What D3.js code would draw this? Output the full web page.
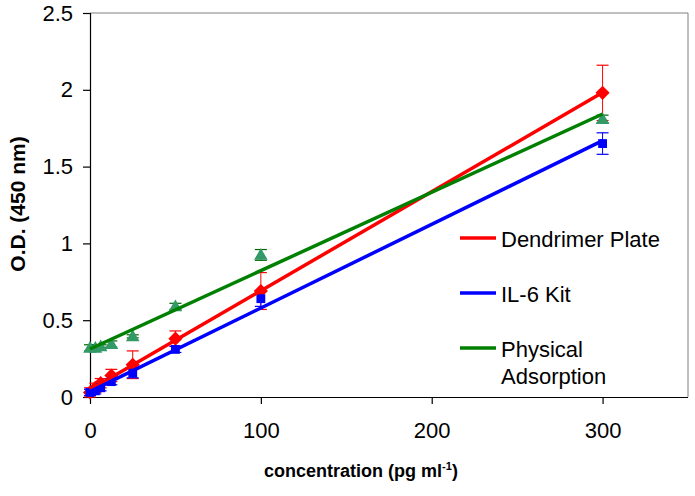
<!DOCTYPE html>
<html>
<head>
<meta charset="utf-8">
<script src="https://cdn.jsdelivr.net/npm/d3@7"></script>
<style>
  html, body { margin: 0; padding: 0; background: #fff; }
  svg { display: block; font-family: "Liberation Sans", Arial, sans-serif; }
</style>
</head>
<body>
<svg id="chart" width="695" height="496"></svg>
<script>
// ---- data ----
const concentrations = [0, 3.125, 6.25, 12.5, 25, 50, 100, 300];
const seriesNames = ["Dendrimer Plate", "IL-6 Kit", "Physical Adsorption"];
const dendrimerOD  = [0.03, 0.06, 0.09, 0.14, 0.21, 0.38, 0.69, 1.98];
const dendrimerErr = [0.03, 0.03, 0.03, 0.04, 0.09, 0.05, 0.12, 0.18];
const il6OD        = [0.03, 0.04, 0.06, 0.10, 0.155, 0.31, 0.64, 1.65];
const il6Err       = [0.02, 0.02, 0.02, 0.02, 0.03, 0.02, 0.05, 0.07];
const physicalOD   = [0.32, 0.32, 0.33, 0.345, 0.395, 0.59, 0.925, 1.81];
const physicalErr  = [0.02, 0.02, 0.01, 0.02, 0.01, 0.02, 0.035, 0.025];
const xTicks = [0, 100, 200, 300];
const yTicks = [0, 0.5, 1, 1.5, 2, 2.5];

const series = [
  { name: seriesNames[0], y: dendrimerOD, err: dendrimerErr, color: "#FF0000", marker: "diamond" },
  { name: seriesNames[2], y: physicalOD, err: physicalErr, color: "#008000", markerColor: "#339966", marker: "triangle" },
  { name: seriesNames[1], y: il6OD, err: il6Err, color: "#0000FF", marker: "square" }
];

// ---- layout ----
const svg = d3.select("#chart");
const padL = 90, padR = 688, padT = 13, padB = 397;
const x = d3.scaleLinear().domain([0, 350]).range([padL, padR]);
const y = d3.scaleLinear().domain([0, 2.5]).range([padB, padT]);

// plot area border (top & right)
svg.append("path")
  .attr("d", `M${padL},${padT}H${padR}V${padB}`)
  .attr("fill", "none").attr("stroke", "#808080").attr("stroke-width", 1);

// axes
const yAxis = svg.append("g").attr("transform", `translate(${padL},0)`)
  .call(d3.axisLeft(y).tickValues(yTicks).tickSize(7).tickPadding(10).tickFormat(d3.format("")));
const xAxis = svg.append("g").attr("transform", `translate(0,${padB})`)
  .call(d3.axisBottom(x).tickValues(xTicks).tickSize(7).tickPadding(18).tickFormat(d3.format("")));
[yAxis, xAxis].forEach(g => {
  g.select(".domain").attr("stroke", "#000").attr("stroke-width", 1.2);
  g.selectAll(".tick line").attr("stroke", "#000").attr("stroke-width", 1.2);
  g.selectAll("text").attr("fill", "#000").style("font-size", "22px")
    .style("font-family", "'Liberation Sans', Arial, sans-serif");
});
xAxis.select(".domain").attr("d", `M${padL},0.5H${padR}`);

// axis titles
svg.append("text")
  .attr("transform", `translate(25,${(padT + padB) / 2 - 1}) rotate(-90)`)
  .attr("text-anchor", "middle")
  .style("font-weight", "bold").style("font-size", "21px")
  .text("O.D. (450 nm)");
const xt = svg.append("text")
  .attr("x", 361).attr("y", 477)
  .attr("text-anchor", "middle")
  .style("font-weight", "bold").style("font-size", "18px");
xt.append("tspan").text("concentration (pg ml");
xt.append("tspan").attr("dy", -7).style("font-size", "11px").text("-1");
xt.append("tspan").attr("dy", 7).text(")");

// linear least-squares fit (Excel trendline)
function fit(xs, ys) {
  const mx = d3.mean(xs), my = d3.mean(ys);
  const sxy = d3.sum(xs, (v, i) => (v - mx) * (ys[i] - my));
  const sxx = d3.sum(xs, v => (v - mx) * (v - mx));
  const b = sxy / sxx;
  return { a: my - b * mx, b };
}

const markerSym = {
  diamond: d3.symbol().type(d3.symbolSquare).size(100),
  square: d3.symbol().type(d3.symbolSquare).size(78),
  triangle: d3.symbol().type(d3.symbolTriangle).size(80)
};
const markerRot = { diamond: 45, square: 0, triangle: 0 };

// error bars
series.forEach(s => {
  const g = svg.append("g");
  const ec = s.color === "#008000" ? "#006400" : s.color;
  concentrations.forEach((c, i) => {
    const cx = x(c), y1 = y(s.y[i] + s.err[i]), y2 = y(s.y[i] - s.err[i]);
    g.append("line").attr("x1", cx).attr("x2", cx).attr("y1", y1).attr("y2", y2)
      .attr("stroke", ec).attr("stroke-width", 1);
    [y1, y2].forEach(yy => g.append("line")
      .attr("x1", cx - 6).attr("x2", cx + 6).attr("y1", yy).attr("y2", yy)
      .attr("stroke", ec).attr("stroke-width", 1.2));
  });
});

// markers
series.forEach(s => {
  svg.append("g").selectAll("path").data(concentrations).join("path")
    .attr("transform", (c, i) => `translate(${x(c)},${y(s.y[i]) + (s.marker === "triangle" ? 1 : 0)}) rotate(${markerRot[s.marker]})`)
    .attr("d", markerSym[s.marker]())
    .attr("fill", s.markerColor || s.color);
});

// trend lines
series.forEach(s => {
  const f = fit(concentrations, s.y);
  const x0 = d3.min(concentrations), x1 = d3.max(concentrations);
  svg.append("line")
    .attr("x1", x(x0)).attr("y1", y(f.a + f.b * x0))
    .attr("x2", x(x1)).attr("y2", y(f.a + f.b * x1))
    .attr("stroke", s.color).attr("stroke-width", 3.5);
});

// legend
const legendItems = [
  { lines: ["Dendrimer Plate"], color: "#FF0000", y: 238 },
  { lines: ["IL-6 Kit"], color: "#0000FF", y: 293 },
  { lines: ["Physical", "Adsorption"], color: "#008000", y: 348 }
];
legendItems.forEach(it => {
  svg.append("line").attr("x1", 460).attr("x2", 496).attr("y1", it.y).attr("y2", it.y)
    .attr("stroke", it.color).attr("stroke-width", 3.5);
  it.lines.forEach((t, j) => svg.append("text")
    .attr("x", 501).attr("y", it.y + 9 + j * 27)
    .style("font-size", "22px").text(t));
});
</script>
</body>
</html>
